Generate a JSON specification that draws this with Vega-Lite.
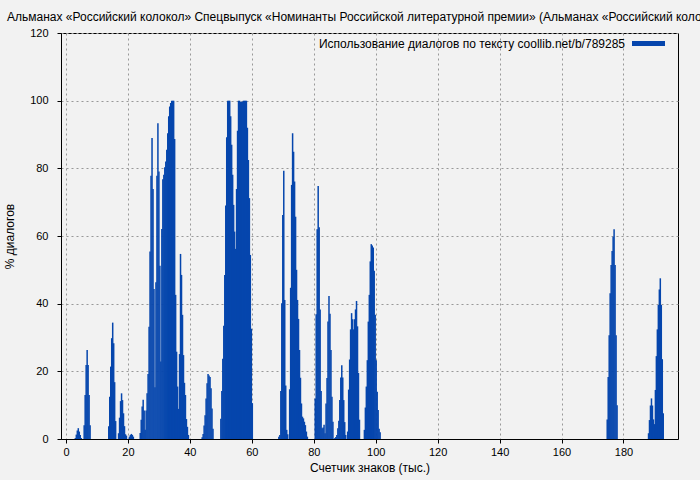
{
"$schema": "https://vega.github.io/schema/vega-lite/v6.json",
"width": 617, "height": 406,
"autosize": {"type": "none"},
"padding": {"left": 61, "top": 33, "right": 22, "bottom": 41},
"background": "#f2f2f2",
"title": {"text": "Альманах «Российский колокол» Спецвыпуск «Номинанты Российской литературной премии» (Альманах «Российский колокол»)", "anchor": "start", "frame": "group", "dx": -54, "offset": 3, "fontSize": 12, "font": "Liberation Sans", "fontWeight": "normal", "color": "#000"},
"data": {"values": [
{"x":3.02,"y":0.3},{"x":3.33,"y":1.3},{"x":3.65,"y":2.5},{"x":3.97,"y":3.2},{"x":4.29,"y":2.2},{"x":4.6,"y":1.2},{"x":4.92,"y":0.3},
{"x":5.87,"y":4.1},{"x":6.19,"y":13},{"x":6.51,"y":21.9},{"x":6.83,"y":26.3},{"x":7.14,"y":21.9},{"x":7.46,"y":13},{"x":7.78,"y":4.1},
{"x":13.81,"y":3.8},{"x":14.13,"y":12.5},{"x":14.44,"y":21.4},{"x":14.76,"y":29.8},{"x":15.08,"y":34.4},{"x":15.4,"y":28.3},{"x":15.71,"y":16.8},{"x":16.03,"y":5.3},
{"x":16.98,"y":1.7},{"x":17.3,"y":6.3},{"x":17.62,"y":11.2},{"x":17.94,"y":13.5},{"x":18.25,"y":11.5},{"x":18.57,"y":7.6},{"x":18.89,"y":3.8},{"x":19.21,"y":1.4},{"x":19.52,"y":1.0},
{"x":20.48,"y":0.7},{"x":20.79,"y":1.2},{"x":21.11,"y":1.5},{"x":21.43,"y":1.2},{"x":21.75,"y":0.7},
{"x":23.97,"y":1.8},{"x":24.29,"y":5.7},{"x":24.6,"y":9.6},{"x":24.92,"y":11.6},{"x":25.24,"y":8.4},{"x":25.56,"y":2.7},{"x":25.87,"y":8.4},{"x":26.19,"y":13.5},{"x":26.51,"y":19.2},{"x":26.83,"y":33.2},{"x":27.14,"y":55.4},{"x":27.46,"y":77.8},{"x":27.78,"y":89},{"x":28.1,"y":73.9},{"x":28.41,"y":44.3},{"x":28.73,"y":15.3},{"x":29.05,"y":46.3},{"x":29.37,"y":77.8},{"x":29.68,"y":93.3},{"x":30.0,"y":79.1},{"x":30.32,"y":51.2},{"x":30.63,"y":22.9},{"x":30.95,"y":62.1},{"x":31.27,"y":76.8},{"x":31.59,"y":78.1},{"x":31.9,"y":80.3},{"x":32.22,"y":82},{"x":32.54,"y":85.5},{"x":32.86,"y":90.4},{"x":33.17,"y":95.4},{"x":33.49,"y":98.3},{"x":33.81,"y":99.3},{"x":34.13,"y":100},{"x":34.44,"y":100},{"x":34.76,"y":100},{"x":35.08,"y":88.7},{"x":35.4,"y":42.6},{"x":35.71,"y":25.8},{"x":36.03,"y":15.5},{"x":36.35,"y":8.9},{"x":36.67,"y":25.1},{"x":36.98,"y":54.7},{"x":37.3,"y":48.5},{"x":37.62,"y":36.7},{"x":37.94,"y":24.8},{"x":38.25,"y":16.6},{"x":38.57,"y":13},{"x":38.89,"y":5.9},{"x":39.21,"y":3.6},{"x":39.52,"y":1.2},
{"x":43.97,"y":0.5},{"x":44.29,"y":1.5},{"x":44.6,"y":4},{"x":44.92,"y":7},{"x":45.24,"y":12},{"x":45.56,"y":16.5},{"x":45.87,"y":19.2},{"x":46.19,"y":18.8},{"x":46.51,"y":18.3},{"x":46.83,"y":15},{"x":47.14,"y":9},{"x":47.46,"y":3},
{"x":50.0,"y":6},{"x":50.32,"y":14.2},{"x":50.63,"y":23.7},{"x":50.95,"y":33.5},{"x":51.27,"y":48.5},{"x":51.59,"y":69},{"x":51.9,"y":89.2},{"x":52.22,"y":100},{"x":52.54,"y":100},{"x":52.86,"y":100},{"x":53.17,"y":95.4},{"x":53.49,"y":87},{"x":53.81,"y":78.1},{"x":54.13,"y":69.2},{"x":54.44,"y":61.3},{"x":54.76,"y":56.2},{"x":55.08,"y":73.9},{"x":55.4,"y":91.1},{"x":55.71,"y":100},{"x":56.03,"y":100},{"x":56.35,"y":99.7},{"x":56.67,"y":99.7},{"x":56.98,"y":99.7},{"x":57.3,"y":100},{"x":57.62,"y":100},{"x":57.94,"y":100},{"x":58.25,"y":100},{"x":58.57,"y":92},{"x":58.89,"y":82.5},{"x":59.21,"y":71.2},{"x":59.52,"y":54.4},{"x":59.84,"y":32.6},{"x":60.16,"y":10.6},
{"x":68.73,"y":0.7},{"x":69.05,"y":1.2},{"x":69.37,"y":14.2},{"x":69.68,"y":40.1},{"x":70.0,"y":66.2},{"x":70.32,"y":79.3},{"x":70.63,"y":41.1},{"x":70.95,"y":15.8},{"x":71.27,"y":2.7},{"x":71.59,"y":1.4},
{"x":72.22,"y":14.7},{"x":72.54,"y":44.7},{"x":72.86,"y":75.1},{"x":73.17,"y":90.4},{"x":73.49,"y":84.9},{"x":73.81,"y":76.1},{"x":74.13,"y":65.7},{"x":74.44,"y":50},{"x":74.76,"y":41.1},{"x":75.08,"y":35.5},{"x":75.4,"y":26.3},{"x":75.71,"y":18.1},{"x":76.03,"y":10.5},{"x":76.35,"y":6.6},{"x":76.67,"y":6.1},{"x":76.98,"y":5.1},{"x":77.3,"y":4.1},{"x":77.62,"y":2.2},{"x":77.94,"y":0.7},
{"x":80.48,"y":12},{"x":80.79,"y":36.9},{"x":81.11,"y":62},{"x":81.43,"y":74.8},{"x":81.75,"y":62.6},{"x":82.06,"y":38.3},{"x":82.38,"y":14.2},{"x":82.7,"y":3.2},{"x":83.02,"y":3.4},{"x":83.33,"y":4.2},{"x":83.65,"y":1.7},{"x":83.97,"y":10.5},{"x":84.29,"y":18},{"x":84.6,"y":34.7},{"x":84.92,"y":42.3},{"x":85.24,"y":37},{"x":85.56,"y":26.3},{"x":85.87,"y":12.5},{"x":86.19,"y":5.1},
{"x":86.83,"y":0.3},{"x":87.14,"y":0.6},{"x":87.46,"y":1.2},{"x":87.78,"y":3.2},{"x":88.1,"y":5.4},{"x":88.41,"y":11.5},{"x":88.73,"y":18.2},{"x":89.05,"y":21.8},{"x":89.37,"y":18.2},{"x":89.68,"y":11.5},{"x":90.0,"y":5},{"x":90.32,"y":1.2},
{"x":90.95,"y":2.2},{"x":91.27,"y":14.6},{"x":91.59,"y":23.5},{"x":91.9,"y":32.4},{"x":92.22,"y":37.2},{"x":92.54,"y":35.4},{"x":92.86,"y":32.4},{"x":93.17,"y":35.4},{"x":93.49,"y":38.3},{"x":93.81,"y":40.8},{"x":94.13,"y":33.3},{"x":94.44,"y":19.5},{"x":94.76,"y":5.7},
{"x":96.35,"y":2.7},{"x":96.67,"y":9.3},{"x":96.98,"y":15.5},{"x":97.3,"y":23.3},{"x":97.62,"y":34.7},{"x":97.94,"y":42.6},{"x":98.25,"y":52.5},{"x":98.57,"y":57.6},{"x":98.89,"y":57.2},{"x":99.21,"y":56.6},{"x":99.52,"y":49.7},{"x":99.84,"y":36.7},{"x":100.16,"y":23.3},{"x":100.48,"y":14},{"x":100.79,"y":8.6},{"x":101.11,"y":3},{"x":101.43,"y":2},
{"x":174.76,"y":5.8},{"x":175.08,"y":18.3},{"x":175.4,"y":30.7},{"x":175.71,"y":43.1},{"x":176.03,"y":51.4},{"x":176.35,"y":55.6},{"x":176.67,"y":59.8},{"x":176.98,"y":62},{"x":177.3,"y":51.4},{"x":177.62,"y":30.7},{"x":177.94,"y":10},
{"x":188.1,"y":1.7},{"x":188.41,"y":5.6},{"x":188.73,"y":9.9},{"x":189.05,"y":12},{"x":189.37,"y":9.9},{"x":189.68,"y":5.8},{"x":190.0,"y":4.4},{"x":190.32,"y":14.5},{"x":190.63,"y":24.5},{"x":190.95,"y":32.4},{"x":191.27,"y":39.6},{"x":191.59,"y":44.2},{"x":191.9,"y":47.5},{"x":192.22,"y":39.6},{"x":192.54,"y":23.6},{"x":192.86,"y":7.6}
]},
"mark": {"type": "bar", "size": 1.5},
"encoding": {
  "x": {"field": "x", "type": "quantitative", "scale": {"domain": [0, 196], "nice": false, "zero": false}, "axis": {"values": [0,20,40,60,80,100,120,140,160,180], "title": "Счетчик знаков (тыс.)", "labelFlush": false, "titlePadding": 5}},
  "y": {"field": "y", "type": "quantitative", "scale": {"domain": [0, 120], "nice": false}, "axis": {"values": [0,20,40,60,80,100,120], "title": "% диалогов", "titlePadding": 13, "labelPadding": 9, "labelFlush": false}},
  "color": {"datum": "Использование диалогов по тексту coollib.net/b/789285", "type": "nominal", "scale": {"range": ["#0646ad"]}, "legend": {"orient": "none", "legendX": 571, "legendY": -6, "title": null, "padding": 0, "symbolType": "M-1,-0.15H1V0.15H-1Z", "symbolSize": 1089, "symbolStrokeWidth": 0, "symbolOpacity": 1, "labelAlign": "right", "labelOffset": -40, "labelFont": "Liberation Sans", "labelFontSize": 12, "labelColor": "#000", "labelLimit": 0}}
},
"config": {
  "view": {"stroke": "#000", "strokeWidth": 1, "fill": "#f2f2f2"},
  "axis": {"domainColor": "#000", "tickColor": "#000", "tickSize": 4, "labelFont": "Liberation Sans", "labelFontSize": 11, "labelColor": "#000", "titleFont": "Liberation Sans", "titleFontSize": 12, "titleFontWeight": "normal", "titleColor": "#000", "gridColor": "#999", "gridDash": [2, 3], "gridWidth": 1, "gridOpacity": 1, "labelPadding": 3, "titlePadding": 4}
}
}
